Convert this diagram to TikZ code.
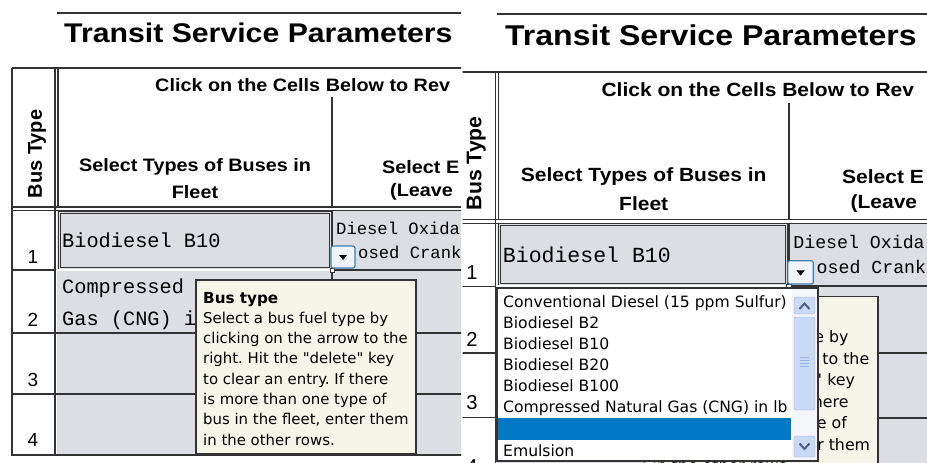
\documentclass[tikz,border=0pt]{standalone}
\usepackage{fontspec}
\setmainfont{Liberation Sans}
\setmonofont{Liberation Mono}
\newfontfamily\tipfont{DejaVu Sans}
\usetikzlibrary{calc}
\frenchspacing

\definecolor{cellgray}{RGB}{220,222,227}
\definecolor{tipcream}{RGB}{246,246,232}
\definecolor{sheetgray}{RGB}{51,51,51}
\definecolor{selblue}{RGB}{0,122,196}
\definecolor{scrollblue}{RGB}{200,218,246}
\definecolor{scrolledge}{RGB}{150,178,228}
\definecolor{scrolltrack}{RGB}{244,246,250}
\definecolor{arrowblue}{RGB}{77,97,133}
\definecolor{btnedge}{RGB}{60,127,177}
\definecolor{btnfill}{RGB}{240,243,247}

\tikzset{
  sheetline/.style={draw=sheetgray,line width=1.2},
  titletext/.style={font=\fontsize{27}{30}\selectfont\bfseries,xscale=1.12,anchor=west,inner sep=0pt},
  hdrtext/.style={font=\fontsize{18}{21}\selectfont\bfseries,xscale=1.1,inner sep=0pt},
  sidetext/.style={font=\fontsize{20}{22}\selectfont\bfseries,rotate=90,inner sep=0pt},
  rownum/.style={font=\fontsize{19}{22}\selectfont,inner sep=0pt},
  monobig/.style={font=\fontsize{20.3}{24}\ttfamily,anchor=west,inner sep=0pt},
  monosmall/.style={font=\fontsize{17.2}{20}\ttfamily,anchor=west,inner sep=0pt},
  tipbold/.style={font=\tipfont\fontsize{15.2}{18}\selectfont\bfseries,anchor=base west,inner sep=0pt},
  tiptext/.style={font=\tipfont\fontsize{14.9}{18}\selectfont,anchor=base west,inner sep=0pt},
  listtext/.style={font=\tipfont\fontsize{15.6}{18}\selectfont,anchor=base west,inner sep=0pt},
  scrollbtn/.style={draw=scrolledge,fill=scrollblue,rounded corners=2},
}

% one worksheet view, in the coordinates of the left screenshot
\newcommand{\transitpanel}[1]{%
  \fill[cellgray] (57,210) rectangle (480,456);
  \draw[sheetgray,line width=2] (57,13) -- (480,13);
  \node[titletext] (title#1) at (64,33) {Transit Service Parameters};
  % header
  \draw[sheetline,line width=1.5] (12,68) -- (480,68);
  \draw[sheetline] (12,207) -- (480,207) (12,210.5) -- (480,210.5);
  \draw[sheetline] (12,68) -- (12,456) (55,68) -- (55,456) (58,68) -- (58,207);
  \draw[sheetline] (332,97) -- (332,207) (332,210) -- (332,456);
  \node[hdrtext,anchor=west] (click#1) at (155,85) {Click on the Cells Below to Rev};
  \node[sidetext] (bustype#1) at (37,154) {Bus Type};
  \node[hdrtext] (selA#1) at (195,167) {Select Types of Buses in};
  \node[hdrtext] (selB#1) at (195,192) {Fleet};
  \node[hdrtext,anchor=west] (emA#1) at (382,167) {Select E};
  \node[hdrtext,anchor=west] (emB#1) at (390,192) {(Leave};
  % rows
  \foreach \y in {270,333,394,455}
    \draw[sheetline] (12,\y) -- (55,\y);
  \foreach \y in {333,394,455}
    \draw[sheetline,line width=2.2] (56,\y) -- (480,\y);
  \draw[sheetline,line width=2.2] (332,270) -- (480,270);
  \foreach \n/\y in {1/257,2/320,3/380,4/440}
    \node[rownum] (num\n#1) at (33,\y) {\n};
  \draw[sheetline,line width=1] (58,211) rectangle (331,269) (60,213) rectangle (329,267);
  \node[monobig] (fuelA#1) at (62,240) {Biodiesel B10};
  \node[monobig] (fuelB#1) at (62,288) {Compressed};
  \node[monobig] (fuelC#1) at (62,320) {Gas (CNG) i};
  \node[monosmall] (ctrlA#1) at (336,228) {Diesel Oxida};
  \node[monosmall] (ctrlB#1) at (358,252) {osed Crank};
  % selected cell and its drop-down button
  \draw[white,line width=2.2] (57,270) -- (330,270);
  \draw[sheetgray,fill=white,line width=0.8] (330,268) rectangle (334,272);
  \draw[btnedge,fill=btnfill,rounded corners=2,line width=1.2] (331,246) rectangle (355,268);
  \fill (339,255) -- (347,255) -- (343,260) -- cycle;
  % tooltip
  \draw[sheetline,fill=tipcream] (196,280) rectangle (416,454);
  \node[tipbold] (tiphead#1) at (203,303) {Bus type};
  \foreach \txt [count=\i] in {Select a bus fuel type by,clicking on the arrow to the,
      right. Hit the "delete" key,to clear an entry. If there,is more than one type of,
      {bus in the fleet, enter them},in the other rows.}
    \node[tiptext] (tip\i#1) at (203,{303+20.3*\i}) {\txt};
}

\begin{document}
\begin{tikzpicture}[x=1pt,y=-1pt]
  \useasboundingbox (0,0) rectangle (927,463);
  \begin{scope}
    \clip (0,0) rectangle (461,463);
    \transitpanel{L}
  \end{scope}
  \begin{scope}
    \clip (462.5,0) rectangle (927,463);
    \begin{scope}[shift={(437,0)},scale=1.06,transform shape]
      \transitpanel{R}
    \end{scope}
    % open drop-down list
    \draw[sheetline,fill=white] (497,288) rectangle (818,461);
    \fill[selblue] (498,418) rectangle (791,440);
    \foreach \txt [count=\i] in {Conventional Diesel (15 ppm Sulfur),Biodiesel B2,
        Biodiesel B10,Biodiesel B20,Biodiesel B100,Compressed Natural Gas (CNG) in lb}
      \node[listtext] (item\i) at (503,{286+21.1*\i}) {\txt};
    \node[listtext] (item8) at (503,456) {Emulsion};
    % scroll bar
    \fill[scrolltrack] (792,289) rectangle (817,460);
    \draw[scrollbtn] (794,297) rectangle (815,314);
    \draw[arrowblue,line width=2] (799.5,309) -- (804.5,303.5) -- (809.5,309);
    \draw[scrollbtn] (794,317) rectangle (815,410);
    \foreach \y in {357,360,363,366}
      \draw[scrolledge] (800,\y) -- (809,\y);
    \draw[scrollbtn] (794,436) rectangle (815,457);
    \draw[arrowblue,line width=2] (799.5,443.5) -- (804.5,449) -- (809.5,443.5);
  \end{scope}
\end{tikzpicture}
\end{document}
